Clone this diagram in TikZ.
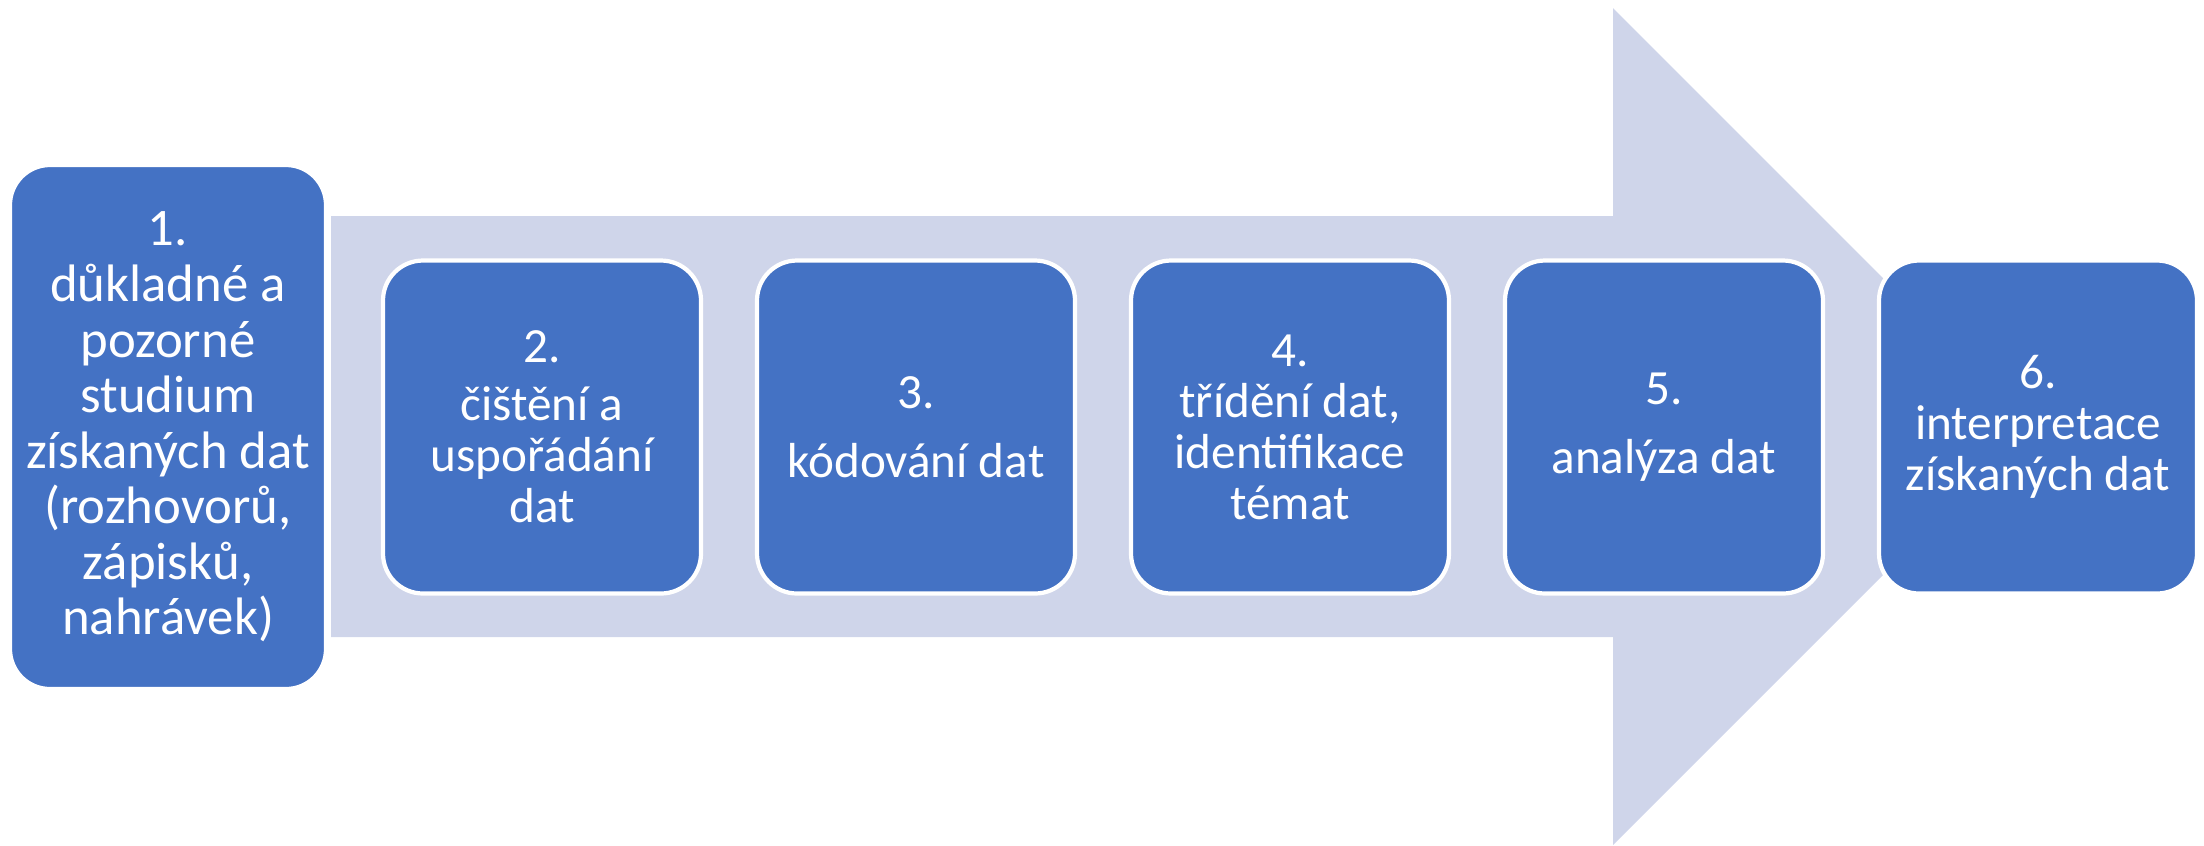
\documentclass[tikz,border=0pt]{standalone}
\usepackage{fontspec}
\setmainfont{Carlito}
\usetikzlibrary{positioning}

\definecolor{stepblue}{HTML}{4472C4}
\definecolor{arrowback}{HTML}{CFD5EA}

\begin{document}
\begin{tikzpicture}[node distance=3.74cm,on grid,
	phase/.style={rectangle, rounded corners=0.4cm, fill=stepblue, draw=white, line width=1.2pt, text=white, align=center, minimum width=3.18cm, minimum height=3.33cm, inner sep=1pt, font=\fontsize{14pt}{14.5pt}\selectfont}]
	
	\useasboundingbox (0,0) rectangle (22.04,-8.45);
	
	% the big arrow behind the steps
	\fill [arrowback] (3.31,-2.16) -- (16.13,-2.16) -- (16.13,-0.08) -- (20.315,-4.265) -- (16.13,-8.45) -- (16.13,-6.37) -- (3.31,-6.37) -- cycle;
	
	\node (s1) [phase, minimum width=3.16cm, minimum height=5.24cm, font=\fontsize{15pt}{15.8pt}\selectfont] at (1.68,-4.27) {1.\\ důkladné a\\ pozorné\\ studium\\ získaných dat\\ (rozhovorů,\\ zápisků,\\ nahrávek)};
	\node (s2) [phase, right of = s1] {2.\\[2pt] čištění a\\ uspořádání\\ dat};
	\node (s3) [phase, right of = s2] {3.\\[5pt] kódování dat};
	\node (s4) [phase, right of = s3] {4.\\ třídění dat,\\ identifikace\\ témat};
	\node (s5) [phase, right of = s4] {5.\\[5pt] analýza dat};
	\node (s6) [phase, right of = s5] {6.\\ interpretace\\ získaných dat};
\end{tikzpicture}
\end{document}
